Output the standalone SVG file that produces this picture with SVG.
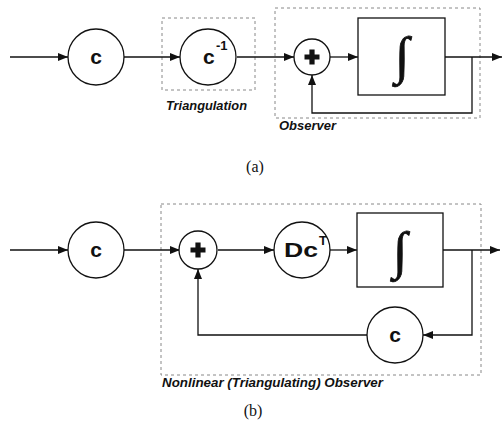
<svg xmlns="http://www.w3.org/2000/svg" width="503" height="428" viewBox="0 0 503 428">
  <style>
    .wire { fill: none; stroke: #111; stroke-width: 1.3; }
    .arrow { marker-end: url(#head); }
    .node { fill: #fff; stroke: #111; stroke-width: 1.3; }
    .region { fill: none; stroke: #888; stroke-width: 1; stroke-dasharray: 3 3; }
    .sym { font-family: "Liberation Sans", Arial, sans-serif; font-weight: bold; font-size: 21px; fill: #111; }
    .mid { text-anchor: middle; }
    .sup { font-size: 13px; }
    .tag { font-family: "Liberation Sans", Arial, sans-serif; font-weight: bold; font-style: italic; font-size: 12px; fill: #111; }
    .integral { font-family: "Liberation Serif", "Times New Roman", serif; font-style: italic; font-size: 52px; fill: #111; stroke: #111; stroke-width: 0.8; text-anchor: middle; }
    .caption { font-family: "Liberation Serif", "Times New Roman", serif; font-size: 16px; fill: #111; text-anchor: middle; }
  </style>
  <defs>
    <marker id="head" viewBox="0 0 10 8" refX="10" refY="4" markerWidth="10" markerHeight="8" markerUnits="userSpaceOnUse" orient="auto">
      <path d="M0,0 L10,4 L0,8 Z" fill="#111"/>
    </marker>
    <path id="plus" d="M-2.6,-7.5 H2.6 V-2.6 H7.5 V2.6 H2.6 V7.5 H-2.6 V2.6 H-7.5 V-2.6 H-2.6 Z" fill="#111"/>
  </defs>

  <!-- (a) grouping regions -->
  <g id="region-triangulation">
    <rect class="region" x="162" y="18" width="93" height="72"/>
    <text class="tag" x="166" y="110" textLength="81" lengthAdjust="spacingAndGlyphs">Triangulation</text>
  </g>
  <g id="region-observer-a">
    <rect class="region" x="275" y="8" width="205" height="110"/>
    <text class="tag" x="279" y="130" textLength="57" lengthAdjust="spacingAndGlyphs">Observer</text>
  </g>

  <!-- (b) grouping region -->
  <g id="region-observer-b">
    <rect class="region" x="161" y="204" width="320" height="171"/>
    <text class="tag" x="162" y="387" textLength="221" lengthAdjust="spacingAndGlyphs">Nonlinear (Triangulating) Observer</text>
  </g>

  <!-- connectors -->
  <g id="connectors">
    <!-- (a) -->
    <line class="wire arrow" x1="10" y1="57" x2="68" y2="57"/>
    <line class="wire arrow" x1="124" y1="57" x2="180" y2="57"/>
    <line class="wire arrow" x1="237" y1="57" x2="294" y2="57"/>
    <line class="wire arrow" x1="330" y1="57" x2="358" y2="57"/>
    <line class="wire arrow" x1="445" y1="57" x2="502" y2="57"/>
    <polyline class="wire arrow" points="472,57 472,113 312,113 312,75"/>
    <!-- (b) -->
    <line class="wire arrow" x1="10" y1="250" x2="68" y2="250"/>
    <line class="wire arrow" x1="124" y1="250" x2="180" y2="250"/>
    <line class="wire arrow" x1="218" y1="250" x2="274" y2="250"/>
    <line class="wire arrow" x1="330" y1="250" x2="357" y2="250"/>
    <line class="wire arrow" x1="443" y1="250" x2="500" y2="250"/>
    <polyline class="wire arrow" points="472,250 472,335 423,335"/>
    <polyline class="wire arrow" points="367,335 198,335 198,269"/>
  </g>

  <!-- (a) nodes -->
  <g id="a-c">
    <circle class="node" cx="96" cy="57" r="28"/>
    <text class="sym mid" x="96" y="64">c</text>
  </g>
  <g id="a-cinv">
    <circle class="node" cx="208" cy="57" r="28"/>
    <text class="sym" x="203" y="64">c</text>
    <text class="sym sup" x="216" y="50">-1</text>
  </g>
  <g id="a-sum">
    <circle class="node" cx="312" cy="57" r="18"/>
    <use href="#plus" x="312" y="57"/>
  </g>
  <g id="a-integrator">
    <rect class="node" x="358" y="18" width="87" height="77"/>
    <text class="integral" x="402" y="73">∫</text>
  </g>

  <!-- (b) nodes -->
  <g id="b-c">
    <circle class="node" cx="96" cy="250" r="28"/>
    <text class="sym mid" x="96" y="257">c</text>
  </g>
  <g id="b-sum">
    <circle class="node" cx="198" cy="250" r="19"/>
    <use href="#plus" x="198" y="250"/>
  </g>
  <g id="b-dct">
    <circle class="node" cx="302" cy="250" r="28"/>
    <text class="sym" x="284" y="257" textLength="34" lengthAdjust="spacingAndGlyphs">Dc</text>
    <text class="sym sup" x="319" y="245">T</text>
  </g>
  <g id="b-integrator">
    <rect class="node" x="357" y="213" width="86" height="74"/>
    <text class="integral" x="400" y="268">∫</text>
  </g>
  <g id="b-c-feedback">
    <circle class="node" cx="395" cy="335" r="28"/>
    <text class="sym mid" x="395" y="342">c</text>
  </g>

  <!-- captions -->
  <text class="caption" x="255" y="172">(a)</text>
  <text class="caption" x="253" y="416">(b)</text>
</svg>
